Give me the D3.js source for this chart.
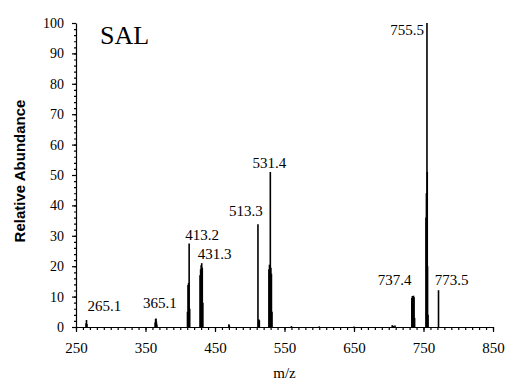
<!DOCTYPE html>
<html>
<head>
<meta charset="utf-8">
<script src="https://cdn.jsdelivr.net/npm/d3@7"></script>
<style>
  body { margin: 0; background: #fff; }
  svg { display: block; }
  .tick text { font-family: "Liberation Serif", "Times New Roman", serif; font-size: 15px; fill: #000; }
  .y-axis .tick text { font-size: 14px; }
  .peak-label { font-family: "Liberation Serif", "Times New Roman", serif; font-size: 15px; }
</style>
</head>
<body>
<div id="chart"></div>
<script>
// spectrum sticks (m/z as drawn, relative abundance)
var mz = [
  264.5, 265.1, 265.7,
  363.9, 364.5, 365.1, 365.7, 366.3,
  410.4, 411.2, 412.0, 412.8, 413.6,
  428.5, 429.3, 430.1, 430.9, 431.7, 432.5,
  470.0, 470.6,
  511.8, 513.0, 513.8,
  527.6, 528.4, 529.0, 529.6, 530.4, 531.2, 532.0,
  560, 600, 650, 705, 707, 709,
  733.2, 734.0, 734.8, 735.6, 736.4, 737.2,
  753.6, 754.2, 755.0, 755.4, 755.8, 756.5,
  771.6
];
var abundance = [
  1.2, 2.3, 1.0,
  1.5, 2.6, 2.8, 1.8, 0.8,
  5, 13.8, 14.5, 27.5, 6,
  17, 19, 20.3, 21, 19.5, 8,
  0.9, 0.5,
  33.8, 2.5, 2.2,
  19, 20.5, 20, 51, 19.5, 17.5, 5,
  0.3, 0.2, 0.2, 0.6, 0.4, 0.5,
  9.5, 10.2, 10, 10.3, 9.8, 3,
  36, 44, 100, 51, 20, 4,
  12.1
];
// labelled peaks: drawn position, height, printed value
var labelMz = [265.1, 365.1, 412.8, 430.9, 511.8, 529.6, 735.6, 755.0, 771.6];
var labelAb = [2.3, 2.8, 27.5, 21, 33.8, 51, 10.3, 100, 12.1];
var labelText = ["265.1", "365.1", "413.2", "431.3", "513.3", "531.4", "737.4", "755.5", "773.5"];

var xTicks = [250, 350, 450, 550, 650, 750, 850];
var yTicks = [0, 10, 20, 30, 40, 50, 60, 70, 80, 90, 100];

var W = 511, H = 387;
var margin = { top: 23, right: 18, bottom: 60, left: 76 },
  width = W - margin.left - margin.right,
  height = H - margin.top - margin.bottom;

var x = d3.scaleLinear().domain([250, 850]).range([0, width]);
var y = d3.scaleLinear().domain([0, 100]).range([height, 0]);

var svg = d3.select("#chart").append("svg")
  .attr("width", W)
  .attr("height", H);
var g = svg.append("g")
  .attr("transform", "translate(" + margin.left + "," + margin.top + ")");

// minor ticks
g.append("g")
  .attr("transform", "translate(0," + height + ")")
  .call(d3.axisBottom(x).ticks(60).tickSize(3).tickFormat(""))
  .call(function (a) { a.select(".domain").remove(); });
g.append("g")
  .call(d3.axisLeft(y).ticks(50).tickSize(2).tickFormat(""))
  .call(function (a) { a.select(".domain").remove(); });

// main axes
g.append("g")
  .attr("transform", "translate(0," + height + ")")
  .call(d3.axisBottom(x).tickValues(xTicks).tickSize(5).tickPadding(10).tickSizeOuter(0).tickFormat(d3.format("d")));
g.append("g")
  .attr("class", "y-axis")
  .call(d3.axisLeft(y).tickValues(yTicks).tickSize(4).tickPadding(8).tickSizeOuter(0).tickFormat(d3.format("d")));

g.selectAll(".domain, .tick line").attr("stroke", "#000").attr("stroke-width", 1.2);

// sticks
var sticks = d3.range(mz.length);
g.append("g").selectAll("line")
  .data(sticks)
  .join("line")
  .attr("x1", function (i) { return x(mz[i]); })
  .attr("x2", function (i) { return x(mz[i]); })
  .attr("y1", y(0))
  .attr("y2", function (i) { return y(abundance[i]); })
  .attr("stroke", "#000")
  .attr("stroke-width", 1.6);

// peak labels
var offsets = {
  "265.1": [18, -9], "365.1": [4, -10], "413.2": [13, -3], "431.3": [13, -4],
  "513.3": [-12, -8], "531.4": [-1, -4], "737.4": [-2, -11], "755.5": [-3, 12], "773.5": [13, -5]
};
var anchors = { "755.5": "end", "737.4": "end" };
g.append("g").selectAll("text")
  .data(d3.range(labelText.length))
  .join("text")
  .attr("class", "peak-label")
  .attr("x", function (i) { return x(labelMz[i]) + offsets[labelText[i]][0]; })
  .attr("y", function (i) { return y(labelAb[i]) + offsets[labelText[i]][1]; })
  .attr("text-anchor", function (i) { return anchors[labelText[i]] || "middle"; })
  .text(function (i) { return labelText[i]; });

// title
svg.append("text")
  .attr("x", 100).attr("y", 44)
  .style("font-family", "'Liberation Serif', 'Times New Roman', serif")
  .style("font-size", "26px")
  .text("SAL");

// axis titles
svg.append("text")
  .attr("x", margin.left + x(550)).attr("y", 378)
  .attr("text-anchor", "middle")
  .style("font-family", "'Liberation Serif', 'Times New Roman', serif")
  .style("font-size", "15px")
  .text("m/z");
svg.append("text")
  .attr("transform", "translate(25,171) rotate(-90)")
  .attr("text-anchor", "middle")
  .style("font-family", "'Liberation Sans', Arial, sans-serif")
  .style("font-weight", "bold")
  .style("font-size", "15px")
  .text("Relative Abundance");
</script>
</body>
</html>
